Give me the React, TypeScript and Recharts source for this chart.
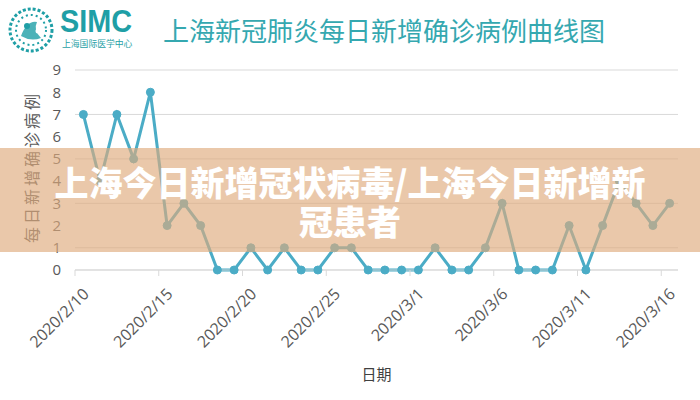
import React from "react";
import { LineChart, Line, XAxis, YAxis, CartesianGrid } from "recharts";

// daily dates on the x axis
const dates = [
  "2020/2/10", "2020/2/11", "2020/2/12", "2020/2/13", "2020/2/14",
  "2020/2/15", "2020/2/16", "2020/2/17", "2020/2/18", "2020/2/19",
  "2020/2/20", "2020/2/21", "2020/2/22", "2020/2/23", "2020/2/24",
  "2020/2/25", "2020/2/26", "2020/2/27", "2020/2/28", "2020/2/29",
  "2020/3/1", "2020/3/2", "2020/3/3", "2020/3/4", "2020/3/5",
  "2020/3/6", "2020/3/7", "2020/3/8", "2020/3/9", "2020/3/10",
  "2020/3/11", "2020/3/12", "2020/3/13", "2020/3/14", "2020/3/15",
  "2020/3/16",
];

// new confirmed cases per day
const cases = [
  7, 4, 7, 5, 8, 2, 3, 2, 0, 0,
  1, 0, 1, 0, 0, 1, 1, 0, 0, 0,
  0, 1, 0, 0, 1, 3, 0, 0, 0, 2,
  0, 2, 4, 3, 2, 3,
];

// labelled dates (every 5 days)
const tickDates = ["2020/2/10", "2020/2/15", "2020/2/20", "2020/2/25", "2020/3/1", "2020/3/6", "2020/3/11", "2020/3/16"];
const yTicks = [0, 1, 2, 3, 4, 5, 6, 7, 8, 9];

const title = "上海新冠肺炎每日新增确诊病例曲线图";
const yTitle = "每日新增确诊病例";
const xTitle = "日期";
const bannerLines = ["上海今日新增冠状病毒/上海今日新增新", "冠患者"];

const TEAL = "#4bacc6";
const BRAND = "#1f9fa6";
const GRID = "#d9d9d9";

const data = dates.map((d, i) => ({ idx: i, date: d, cases: cases[i] }));
// ticks sit between categories, half a day before each labelled date
const xTicks = tickDates.map((d) => dates.indexOf(d) - 0.5);

function DateTick(props: any) {
  const { x, y, payload } = props;
  const label = dates[payload.value + 0.5];
  return (
    <text
      transform={`translate(${x + 15},${y + 17}) rotate(-45)`}
      textAnchor="end"
      fontSize={16}
      fill="#595959"
      fontFamily="'Open Sans', sans-serif"
    >
      {label}
    </text>
  );
}

function Emblem() {
  return (
    <svg width={48} height={48} style={{ position: "absolute", left: 7, top: 6 }}>
      <circle cx={24} cy={24} r={21} fill="none" stroke={BRAND} strokeWidth={3} strokeDasharray="3 2" />
      <circle cx={24} cy={24} r={15} fill="none" stroke={BRAND} strokeWidth={2} strokeDasharray="2 3" />
      <path d="M14 30 Q20 14 30 16 Q26 24 34 32 Q24 36 14 30 Z" fill={BRAND} opacity={0.8} />
      <circle cx={20} cy={20} r={3} fill={BRAND} />
      <circle cx={31} cy={25} r={2.5} fill="#fff" />
    </svg>
  );
}

export default function App() {
  return (
    <div style={{ position: "fixed", left: 0, top: 0, width: 700, height: 400, background: "#fff", overflow: "hidden" }}>
      <Emblem />
      <div style={{ position: "absolute", left: 60, top: 6, height: 30, lineHeight: "30px", fontFamily: "'Liberation Sans', Arial, sans-serif", fontWeight: 700, fontSize: 32, color: BRAND, transform: "scaleX(0.9)", transformOrigin: "left top" }}>
        SIMC
      </div>
      <div style={{ position: "absolute", left: 62, top: 39, lineHeight: "10px", fontFamily: "'Noto Sans CJK SC', sans-serif", fontSize: 8.8, color: BRAND, whiteSpace: "nowrap" }}>
        上海国际医学中心
      </div>
      <div style={{ position: "absolute", left: 163, top: 15, fontFamily: "'Noto Sans CJK SC', sans-serif", fontSize: 26, lineHeight: "30px", color: "#35a8b0", whiteSpace: "nowrap" }}>
        {title}
      </div>

      <div style={{ position: "absolute", left: 0, top: 0 }}>
        <LineChart width={700} height={400} data={data} margin={{ top: 70, right: 22, bottom: 50, left: 0 }}>
          <CartesianGrid vertical={false} stroke={GRID} strokeWidth={1} />
          <XAxis
            dataKey="idx"
            type="number"
            domain={[-0.5, 35.5]}
            ticks={xTicks}
            interval={0}
            height={80}
            stroke={GRID}
            tickSize={6}
            tick={<DateTick />}
            label={{ value: xTitle, position: "insideBottom", offset: -30, fill: "#404040", fontSize: 15, fontFamily: "'Noto Sans CJK SC', sans-serif" }}
          />
          <YAxis
            domain={[0, 9]}
            ticks={yTicks}
            width={75}
            axisLine={false}
            tickLine={false}
            tickMargin={8}
            tick={{ fontSize: 15, fill: "#595959", fontFamily: "'Open Sans', sans-serif" }}
          />
          <Line
            type="linear"
            dataKey="cases"
            stroke={TEAL}
            strokeWidth={3}
            dot={{ r: 4, fill: TEAL, stroke: TEAL, strokeWidth: 1 }}
            isAnimationActive={false}
          />
        </LineChart>
      </div>

      <svg width={60} height={400} style={{ position: "absolute", left: 0, top: 0 }}>
        <text
          transform="translate(38,167) rotate(-90)"
          textAnchor="middle"
          fontSize={16}
          fill="#595959"
          letterSpacing={3}
          fontFamily="'Noto Sans CJK SC', sans-serif"
        >
          {yTitle}
        </text>
      </svg>

      <div style={{ position: "absolute", left: 0, top: 148, width: 700, height: 104, background: "rgba(223,171,125,0.65)" }} />
      {bannerLines.map((l, i) => (
        <div
          key={l}
          style={{ position: "absolute", left: 0, top: 164 + i * 39, width: 700, textAlign: "center", fontFamily: "'Noto Sans CJK SC', sans-serif", fontWeight: 900, fontSize: 34, lineHeight: "36px", color: "#fff", whiteSpace: "nowrap" }}
        >
          {l}
        </div>
      ))}
    </div>
  );
}
